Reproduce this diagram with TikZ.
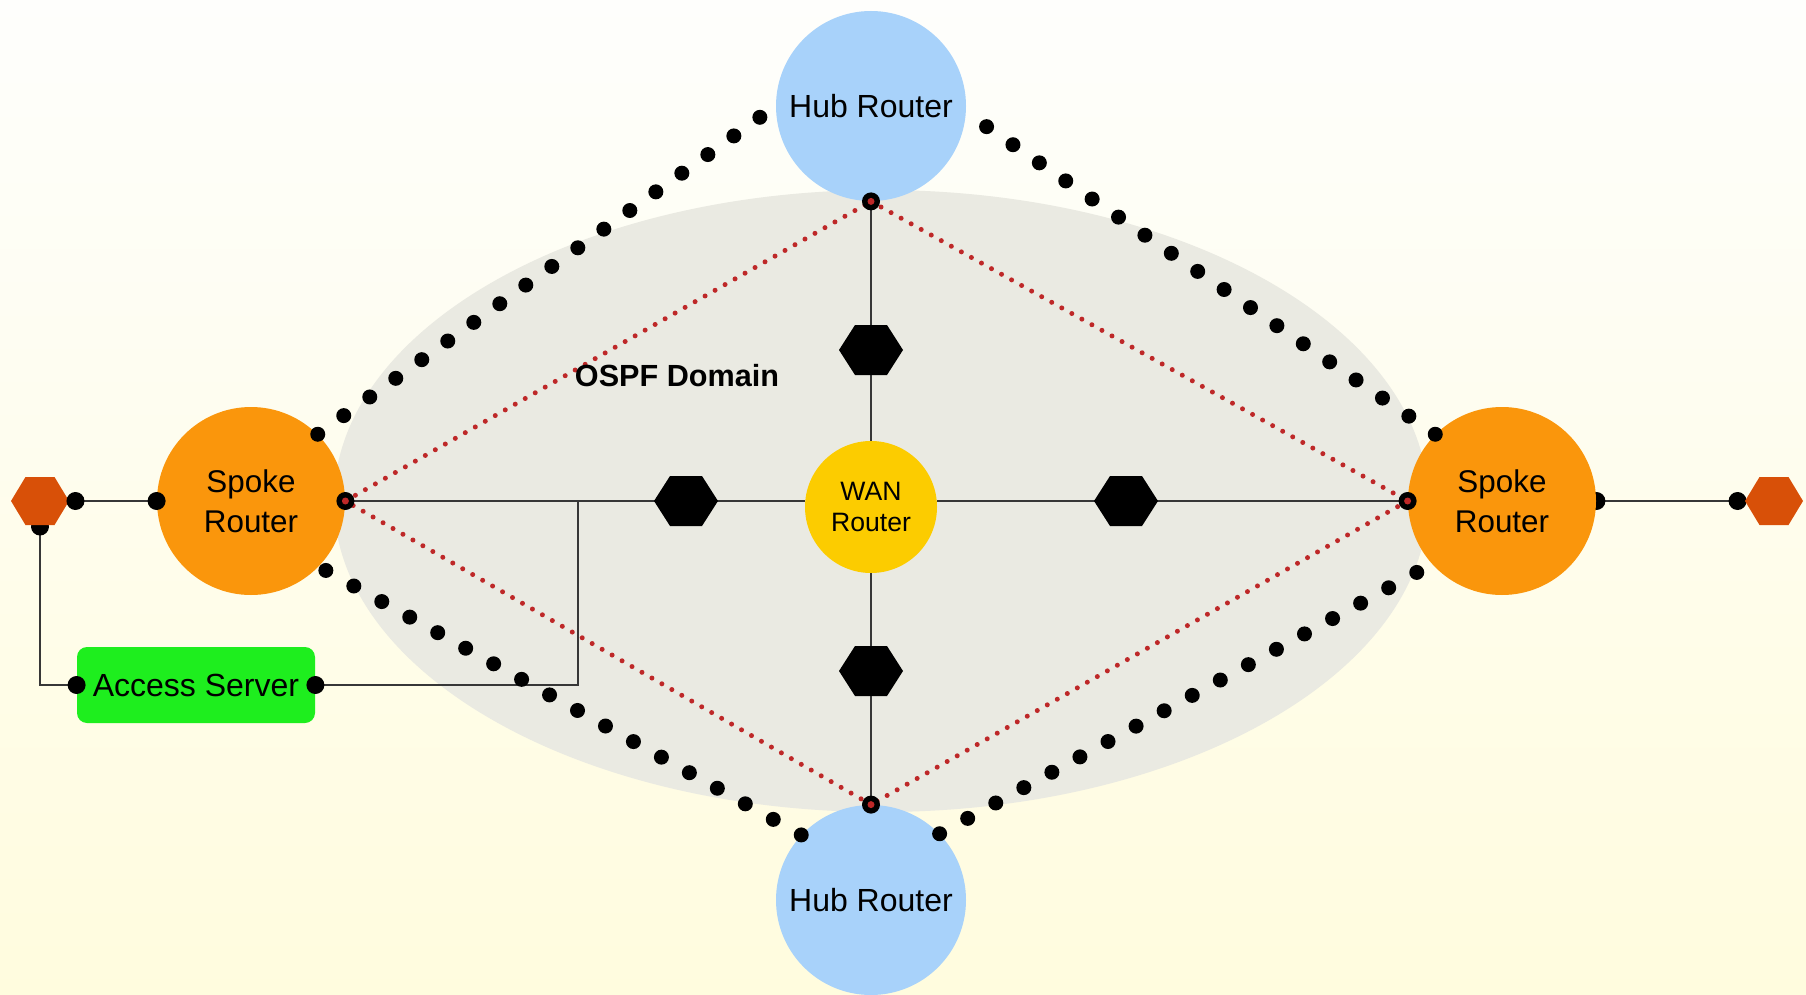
\documentclass[tikz,border=0pt]{standalone}
\usepackage{fontspec}
\setmainfont{Liberation Sans}
\usetikzlibrary{shapes.geometric}
\pgfdeclarelayer{bg}
\pgfdeclarelayer{fg}
\pgfsetlayers{bg,main,fg}

\definecolor{hubblue}{RGB}{168,210,250}
\definecolor{spokeorange}{RGB}{250,150,12}
\definecolor{wangold}{RGB}{252,204,0}
\definecolor{accgreen}{RGB}{30,238,30}
\definecolor{edgehex}{RGB}{216,80,8}
\definecolor{domaingray}{RGB}{234,234,226}
\definecolor{wirecol}{RGB}{55,55,55}
\definecolor{linkred}{RGB}{190,40,40}
\definecolor{bgtop}{RGB}{254,254,252}
\definecolor{bgbot}{RGB}{255,252,222}

\begin{document}
\begin{tikzpicture}[x=0.5pt,y=-0.5pt,
  router/.style={circle, inner sep=0pt, text=black},
  hub/.style={router, fill=hubblue, minimum size=95pt, font=\fontsize{16}{19}\selectfont},
  spoke/.style={router, fill=spokeorange, minimum size=94pt, align=center, font=\fontsize{15.7}{20}\selectfont},
  wanrouter/.style={router, fill=wangold, minimum size=66pt, align=center, font=\fontsize{13.3}{15.5}\selectfont},
  hexslot/.style={regular polygon, regular polygon sides=6, inner sep=0pt, minimum size=#1},
  server/.style={rectangle, rounded corners=5pt, fill=accgreen, inner sep=0pt, minimum width=119pt, minimum height=38pt, font=\fontsize{16}{19}\selectfont},
  wire/.style={draw=wirecol, line width=1.1pt},
  ospf/.style={draw=linkred, line width=2.5pt, line cap=round, dash pattern=on 0pt off 5.75pt},
  tunnel/.style={draw=black, line width=7.5pt, line cap=round, dash pattern=on 0pt off 16pt},
  port/.style={fill=black},
  portcore/.style={fill=linkred},
]
\useasboundingbox (0,0) rectangle (1806,995);

% routers, switches and the access server
\node[hub] (hubT) at (871,106) {Hub Router};
\node[hub] (hubB) at (871,900) {Hub Router};
\node[spoke] (spokeL) at (251,501) {Spoke\\Router};
\node[spoke] (spokeR) at (1502,501) {Spoke\\Router};
\node[wanrouter] (wan) at (871,507) {WAN\\Router};
\node[hexslot=32pt] (hexN) at (871,350) {};
\node[hexslot=32pt] (hexS) at (871,671) {};
\node[hexslot=32pt] (hexW) at (686,501) {};
\node[hexslot=32pt] (hexE) at (1126,501) {};
\node[hexslot=29pt] (endL) at (40,501) {};
\node[hexslot=29pt] (endR) at (1774,501) {};
\node[server] (acc) at (196,685) {Access Server};
\node[font=\bfseries\fontsize{15.3}{18}\selectfont] (dom) at (677,376) {OSPF Domain};
\coordinate (tap) at (578,501);

% flattened hexagon bodies
\foreach \h in {hexN,hexS,hexW,hexE}
  \fill[black] (\h.center) +(-32,0) -- +(-16,-25) -- +(16,-25) -- +(32,0) -- +(16,25) -- +(-16,25) -- cycle;
\foreach \h in {endL,endR}
  \fill[edgehex] (\h.center) +(-29,0) -- +(-14.5,-24) -- +(14.5,-24) -- +(29,0) -- +(14.5,24) -- +(-14.5,24) -- cycle;

\begin{pgfonlayer}{bg}
  % backdrop and OSPF area
  \fill[top color=bgtop, bottom color=bgbot] (0,0) rectangle (1806,995);
  \fill[domaingray] (881,501) ellipse [x radius=547, y radius=311];

  % OSPF adjacencies
  \draw[ospf] (spokeL.east) -- (hubT.south);
  \draw[ospf] (hubT.south) -- (spokeR.west);
  \draw[ospf] (spokeR.west) -- (hubB.north);
  \draw[ospf] (hubB.north) -- (spokeL.east);

  % physical links
  \draw[wire] (endL.east) -- (spokeL.west);
  \draw[wire] (endL.south) |- (acc.west);
  \draw[wire] (acc.east) -| (tap);
  \draw[wire] (spokeL.east) -- (hexW.center) -- (hexW.center -| wan.west);
  \draw[wire] (wan.east |- hexE.center) -- (hexE.center) -- (spokeR.west);
  \draw[wire] (hubT.south) -- (hexN.center) -- (wan.north);
  \draw[wire] (wan.south) -- (hexS.center) -- (hubB.north);
  \draw[wire] (spokeR.east) -- (endR.west);

  % ports tucked behind their devices
  \fill[port] (endL.south) circle[radius=9];
  \fill[port] ([xshift=-3.5pt]endR.west) circle[radius=9];
  \fill[port] (spokeR.east) circle[radius=9];
\end{pgfonlayer}

\begin{pgfonlayer}{fg}
  % visible ports
  \fill[port] ([xshift=3pt]endL.east) circle[radius=9];
  \fill[port] (spokeL.west) circle[radius=9];
  \fill[port] (acc.west) circle[radius=9];
  \fill[port] (acc.east) circle[radius=9];
  \foreach \p in {spokeL.east, spokeR.west, hubT.south, hubB.north} {
    \fill[port] (\p) circle[radius=9];
    \fill[portcore] (\p) circle[radius=3.5];
  }

  % tunnels between spokes and hubs
  \draw[tunnel] (spokeL.45) -- (hubT.west);
  \draw[tunnel] (spokeR.135) -- (hubT.-4);
  \draw[tunnel] (hubB.137) -- (spokeL.-44);
  \draw[tunnel] (hubB.44) -- (spokeR.222);
\end{pgfonlayer}
\end{tikzpicture}
\end{document}
